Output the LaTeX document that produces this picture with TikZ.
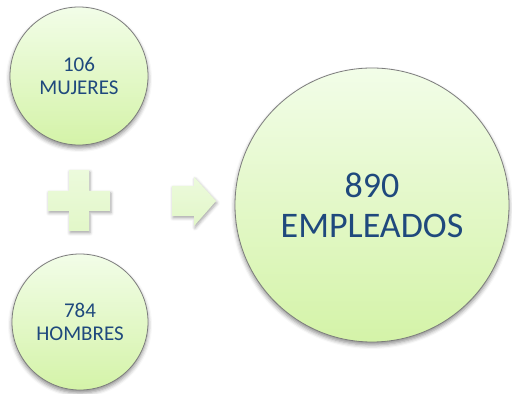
\documentclass[tikz,border=0pt]{standalone}
\usepackage{fontspec}
\setmainfont{Carlito}
\usetikzlibrary{shadows.blur}
\definecolor{txtblue}{RGB}{31,73,125}
\definecolor{gtop}{RGB}{242,253,232}
\definecolor{gbot}{RGB}{212,243,168}
\definecolor{ptop}{RGB}{236,250,220}
\definecolor{pbot}{RGB}{226,247,200}
\definecolor{rim}{RGB}{125,125,125}
\tikzset{
  bubble/.style={circle, draw=rim, line width=0.8pt, top color=gtop, bottom color=gbot,
    text=txtblue, align=center, inner sep=0pt,
    blur shadow={shadow xshift=0pt, shadow yshift=-3pt, shadow blur radius=4pt, shadow opacity=45}},
  smalltxt/.style={font=\fontsize{21}{23}\selectfont},
  bigtxt/.style={font=\fontsize{36}{40}\selectfont},
  symb/.style={top color=ptop, bottom color=pbot, draw=none,
    blur shadow={shadow xshift=1pt, shadow yshift=-2pt, shadow blur radius=3pt, shadow opacity=35}}
}
\begin{document}
\begin{tikzpicture}[x=1pt,y=1pt]
\useasboundingbox (0,0) rectangle (512,394);
\node[bubble, smalltxt, minimum size=138pt] (muj) at (79,318) {106\\MUJERES};
\node[bubble, smalltxt, minimum size=136pt] (hom) at (80,72) {784\\HOMBRES};
\node[bubble, bigtxt, minimum size=274pt] (emp) at (372,189) {890\\EMPLEADOS};
% plus sign
\path[symb] (69,224) -- (89,224) -- (89,203) -- (110,203) -- (110,183) -- (89,183)
  -- (89,163) -- (69,163) -- (69,183) -- (48,183) -- (48,203) -- (69,203) -- cycle;
% arrow
\path[symb] (172,208) -- (194,208) -- (194,217) -- (216,193) -- (194,168) -- (194,178)
  -- (172,178) -- cycle;
\end{tikzpicture}
\end{document}
